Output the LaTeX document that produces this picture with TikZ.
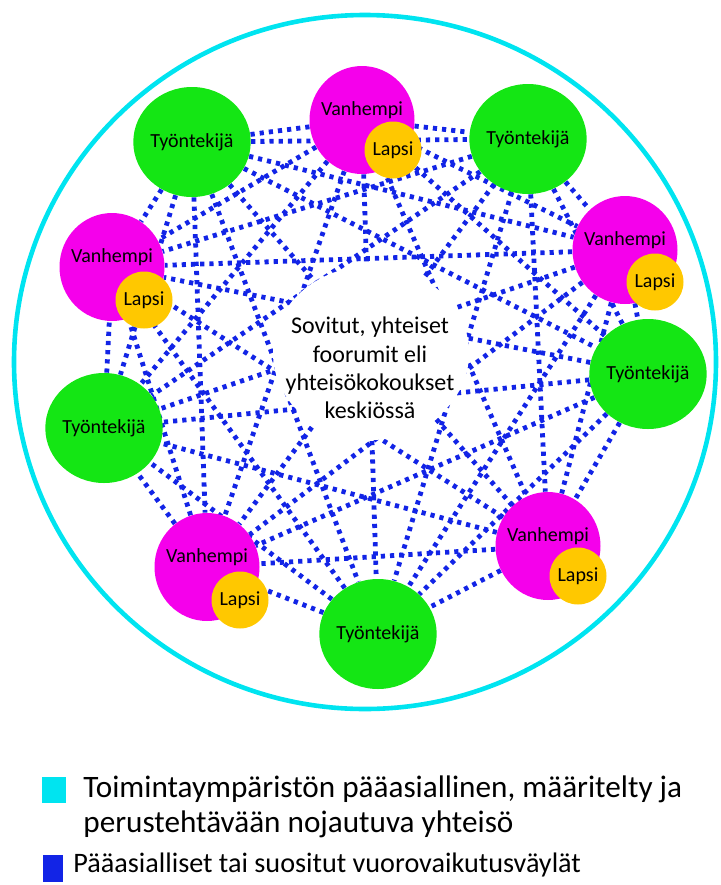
\documentclass[tikz,border=0pt]{standalone}
\usepackage{fontspec}
\setmainfont{Carlito}
\usepackage{tikz}
\newcommand{\ringellipse}[3]% center, xdim, ydim
{(#1) ellipse (#2 and #3)
}
\usetikzlibrary{shapes.geometric}
\usetikzlibrary{backgrounds}
\usetikzlibrary{positioning}
\definecolor{ringcyan}{RGB}{0,228,240}
\definecolor{linkblue}{RGB}{18,36,230}
\definecolor{workgreen}{RGB}{20,230,20}
\definecolor{parentpink}{RGB}{245,0,235}
\definecolor{childgold}{RGB}{255,200,0}
\tikzset{
	nodefont/.style={font=\fontsize{10}{12}\selectfont},
	worker/.style={ellipse, fill=workgreen, minimum width=51pt, minimum height=55pt, inner sep=0pt, nodefont},
	parent/.style={ellipse, fill=parentpink, minimum width=52.5pt, minimum height=54pt, inner sep=0pt},
	vtext/.style={nodefont, yshift=5pt},
	child/.style={circle, fill=childgold, minimum size=28.5pt, inner sep=0pt, nodefont},
	link/.style={draw=linkblue, line width=2.4pt, dash pattern=on 2.1pt off 2.5pt},
	ring/.style={draw=ringcyan, line width=2.3pt},
	hub/.style={ellipse, fill=white, minimum width=98pt, minimum height=87pt},
	legkey/.style={inner sep=0pt},
	legtext/.style={font=\fontsize{15.6}{17.5}\selectfont, align=left, inner sep=0pt}
}
\begin{document}
\begin{tikzpicture}[x=0.5pt,y=-0.5pt]
	\useasboundingbox (0,0) rectangle (720,885);
	\draw[ring] \ringellipse{365,362}{175.5pt}{173.5pt};
	\node[worker] (t1) at (192,142){Työntekijä};%TL
	\node[parent, label={[vtext]center:Vanhempi}] (v1) at (362,120){};%top
	\node[worker] (t2) at (528,139){Työntekijä};%TR
	\node[parent, label={[vtext]center:Vanhempi}] (v2) at (625,250){};%right
	\node[worker] (t3) at (648,374){Työntekijä};%right
	\node[parent, label={[vtext]center:Vanhempi}] (v3) at (548,546){};%BR
	\node[worker] (t4) at (378,634){Työntekijä};%bottom
	\node[parent, label={[vtext]center:Vanhempi}] (v4) at (207,567){};%BL
	\node[worker] (t5) at (104,428){Työntekijä};%left
	\node[parent, label={[vtext]center:Vanhempi}] (v5) at (112,267){};%left
	\node[child] (c1) at ([shift={(31,30)}]v1.center){Lapsi};
	\node[child] (c2) at ([shift={(30,32)}]v2.center){Lapsi};
	\node[child] (c3) at ([shift={(30,30)}]v3.center){Lapsi};
	\node[child] (c4) at ([shift={(33,33)}]v4.center){Lapsi};
	\node[child] (c5) at ([shift={(32,33)}]v5.center){Lapsi};
	\node[hub] (hub) at (371,353){};
	\node[align=center, font=\fontsize{12}{14.2}\selectfont] (forum) at (370,368){Sovitut, yhteiset\\foorumit eli\\yhteisökokoukset\\keskiössä};
	\begin{scope}[on background layer]
	\draw[link] (t1) -- (v1) (t1) -- (t2) (t1) -- (v2) (t1) -- (t3) (t1) -- (v3) (t1) -- (t4) (t1) -- (v4) (t1) -- (t5) (t1) -- (v5);
	\draw[link] (v1) -- (t2) (v1) -- (v2) (v1) -- (t3) (v1) -- (v3) (v1) -- (t4) (v1) -- (v4) (v1) -- (t5) (v1) -- (v5);
	\draw[link] (t2) -- (v2) (t2) -- (t3) (t2) -- (v3) (t2) -- (t4) (t2) -- (v4) (t2) -- (t5) (t2) -- (v5);
	\draw[link] (v2) -- (t3) (v2) -- (v3) (v2) -- (t4) (v2) -- (v4) (v2) -- (t5) (v2) -- (v5);
	\draw[link] (t3) -- (v3) (t3) -- (t4) (t3) -- (v4) (t3) -- (t5) (t3) -- (v5);
	\draw[link] (v3) -- (t4) (v3) -- (v4) (v3) -- (t5) (v3) -- (v5);
	\draw[link] (t4) -- (v4) (t4) -- (t5) (t4) -- (v5);
	\draw[link] (v4) -- (t5) (v4) -- (v5);
	\draw[link] (t5) -- (v5);
	\end{scope}
	\node[legkey, fill=ringcyan, minimum width=12pt, minimum height=13pt] (key1) at (54,790){};
	\node[legtext, anchor=west] (leg1) at (83,807){Toimintaympäristön pääasiallinen, määritelty ja\\perustehtävään nojautuva yhteisö};
	\node[legkey, fill=linkblue, minimum width=10pt, minimum height=13.5pt] (key2) at (53,868.5){};
	\node[legtext, anchor=base west, font=\fontsize{14.1}{17.5}\selectfont] (leg2) at (73,872){Pääasialliset tai suositut vuorovaikutusväylät};
\end{tikzpicture}
\end{document}
